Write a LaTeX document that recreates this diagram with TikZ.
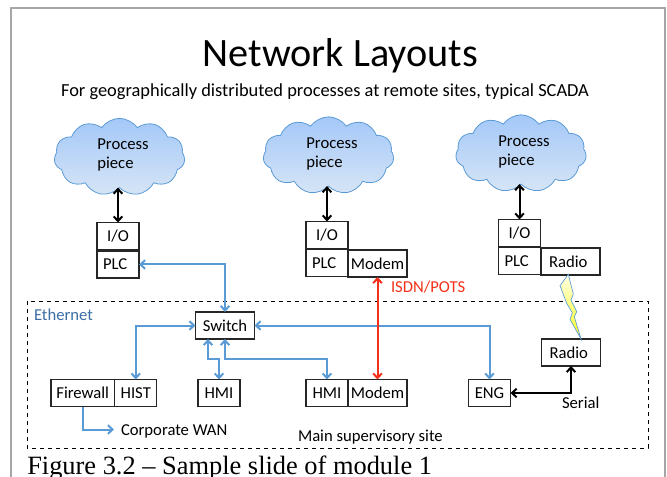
\documentclass[tikz,border=0pt]{standalone}
\usepackage{fontspec}
\setmainfont{Carlito}
\newfontfamily\capfont{Liberation Serif}
\usetikzlibrary{arrows.meta,shapes.symbols}
\definecolor{linkblue}{HTML}{5B9BD5}
\definecolor{linkred}{HTML}{F5301A}
\definecolor{ethblue}{HTML}{3B6EA5}
\definecolor{cloudtop}{HTML}{A4C8F8}
\definecolor{cloudbot}{HTML}{D6E5F6}
\tikzset{
	unit/.style={draw=black!85,line width=0.9pt,inner sep=0,outer sep=0,minimum height=20.25pt,font=\fontsize{12.5}{15}\selectfont},
	small/.style={unit,minimum width=31.5pt},
	wide/.style={unit,minimum width=44.25pt},
	plcunit/.style={small,inner xsep=4.5pt,text width=22.5pt,align=left},
	radiounit/.style={wide,inner xsep=6pt,text width=32.25pt,align=left},
	procloud/.style={draw=linkblue,line width=0.6pt,shape=cloud,cloud puffs=11,cloud puff arc=110,aspect=1.7,inner sep=0,outer sep=0,minimum width=98pt,minimum height=58pt,top color=cloudtop,bottom color=cloudbot},
	caption/.style={inner sep=0,outer sep=0,font=\fontsize{12.5}{14.5}\selectfont},
	barb/.tip={Straight Barb[length=3.5pt,width=6.5pt]},
	link/.style={barb-barb,line width=1.5pt},
	blacklink/.style={link,black},
	bluelink/.style={link,linkblue},
	redlink/.style={link,linkred}
}
\begin{document}
\begin{tikzpicture}[x=0.75pt,y=-0.75pt]
	\useasboundingbox (0,0) rectangle (667,477);
	% slide
	\draw[line width=1.5pt,black!35] (11,477) -- (11,8) -- (665,8) -- (665,477);
	\node[inner sep=0,font=\fontsize{30.2}{34}\selectfont] (title) at (340.5,56) {Network Layouts};
	\node[caption,font=\fontsize{13.8}{16}\selectfont] (subtitle) at (325,92) {For geographically distributed processes at remote sites, typical SCADA};
	\draw[dashed,line width=0.6pt] (27,301) rectangle (648,448);
	% clouds
	\node[procloud] (cloudA) at (119.5,157) {};
	\node[procloud] (cloudB) at (328.5,155.5) {};
	\node[procloud] (cloudC) at (521,153.5) {};
	\node[caption,align=left] (textA) at (123,155) {Process\\piece};
	\node[caption,align=left] (textB) at (332,154) {Process\\piece};
	\node[caption,align=left] (textC) at (524,152) {Process\\piece};
	% remote sites
	\node[small] (ioA) at (118,236) {I/O};
	\node[plcunit] (plcA) at (118,264.5) {PLC};
	\node[small] (ioB) at (327,235) {I/O};
	\node[plcunit] (plcB) at (327,263) {PLC};
	\node[wide] (modemB) at (377.5,263.5) {Modem};
	\node[small] (ioC) at (519.5,233) {I/O};
	\node[plcunit] (plcC) at (519.5,261) {PLC};
	\node[radiounit] (radioC) at (570.5,261.5) {Radio};
	% main site
	\node[wide] (switch) at (225,325.5) {Switch};
	\node[unit,minimum width=47.5pt] (firewall) at (82.75,393) {Firewall};
	\node[small] (hist) at (135.75,393) {HIST};
	\node[small] (hmiA) at (219,393) {HMI};
	\node[small] (hmiB) at (327,393) {HMI};
	\node[wide] (modemA) at (377.5,393) {Modem};
	\node[small] (eng) at (489.5,393) {ENG};
	\node[radiounit] (radioA) at (571,352.5) {Radio};
	% labels
	\node[caption,text=ethblue,anchor=west] (ethernet) at (34,315) {Ethernet};
	\node[caption,anchor=west] (wan) at (121,431) {Corporate WAN};
	\node[caption,anchor=west] (site) at (298,437) {Main supervisory site};
	\node[caption,text=linkred,anchor=west] (isdn) at (391,287) {ISDN/POTS};
	\node[caption,anchor=west] (serial) at (562,403) {Serial};
	\node[inner sep=0,anchor=base west,font=\capfont\fontsize{19.8}{22}\selectfont] (figure) at (27,474.5) {Figure 3.2 – Sample slide of module 1};
	% links
	\coordinate (busA) at (208,359);
	\coordinate (busB) at (225,359);
	\coordinate (wanend) at (114,429.5);
	\draw[blacklink] (cloudA.south -| ioA.north) -- (ioA.north);
	\draw[blacklink] (cloudB.south -| ioB.north) -- (ioB.north);
	\draw[blacklink] (cloudC.south -| ioC.north) -- (ioC.north);
	\draw[bluelink] (plcA.east) -| (switch.north);
	\draw[bluelink] (switch.west) -| (hist.north);
	\draw[bluelink] (switch.south -| busA) -- (busA) -| (hmiA.north);
	\draw[bluelink] (switch.south) -- (busB) -| (hmiB.north);
	\draw[bluelink] (switch.east) -| (eng.north);
	\draw[linkblue,line width=1.5pt,-barb] (firewall.south) |- (wanend);
	\draw[redlink] (modemB.south) -- (modemA.north);
	\draw[blacklink] (eng.east) -| (radioA.south);
	% bolt
	\path[draw=linkblue,line width=0.5pt,top color=yellow!10,bottom color=yellow!90] (568.3,274.3) -- (560,285.7) -- (566.7,303.3) -- (572.3,312.7) -- (570,319.3) -- (581,339) -- (574.3,316.7) -- (576.7,311.7) -- (571,300) -- (573.3,294) -- cycle;
\end{tikzpicture}
\end{document}
